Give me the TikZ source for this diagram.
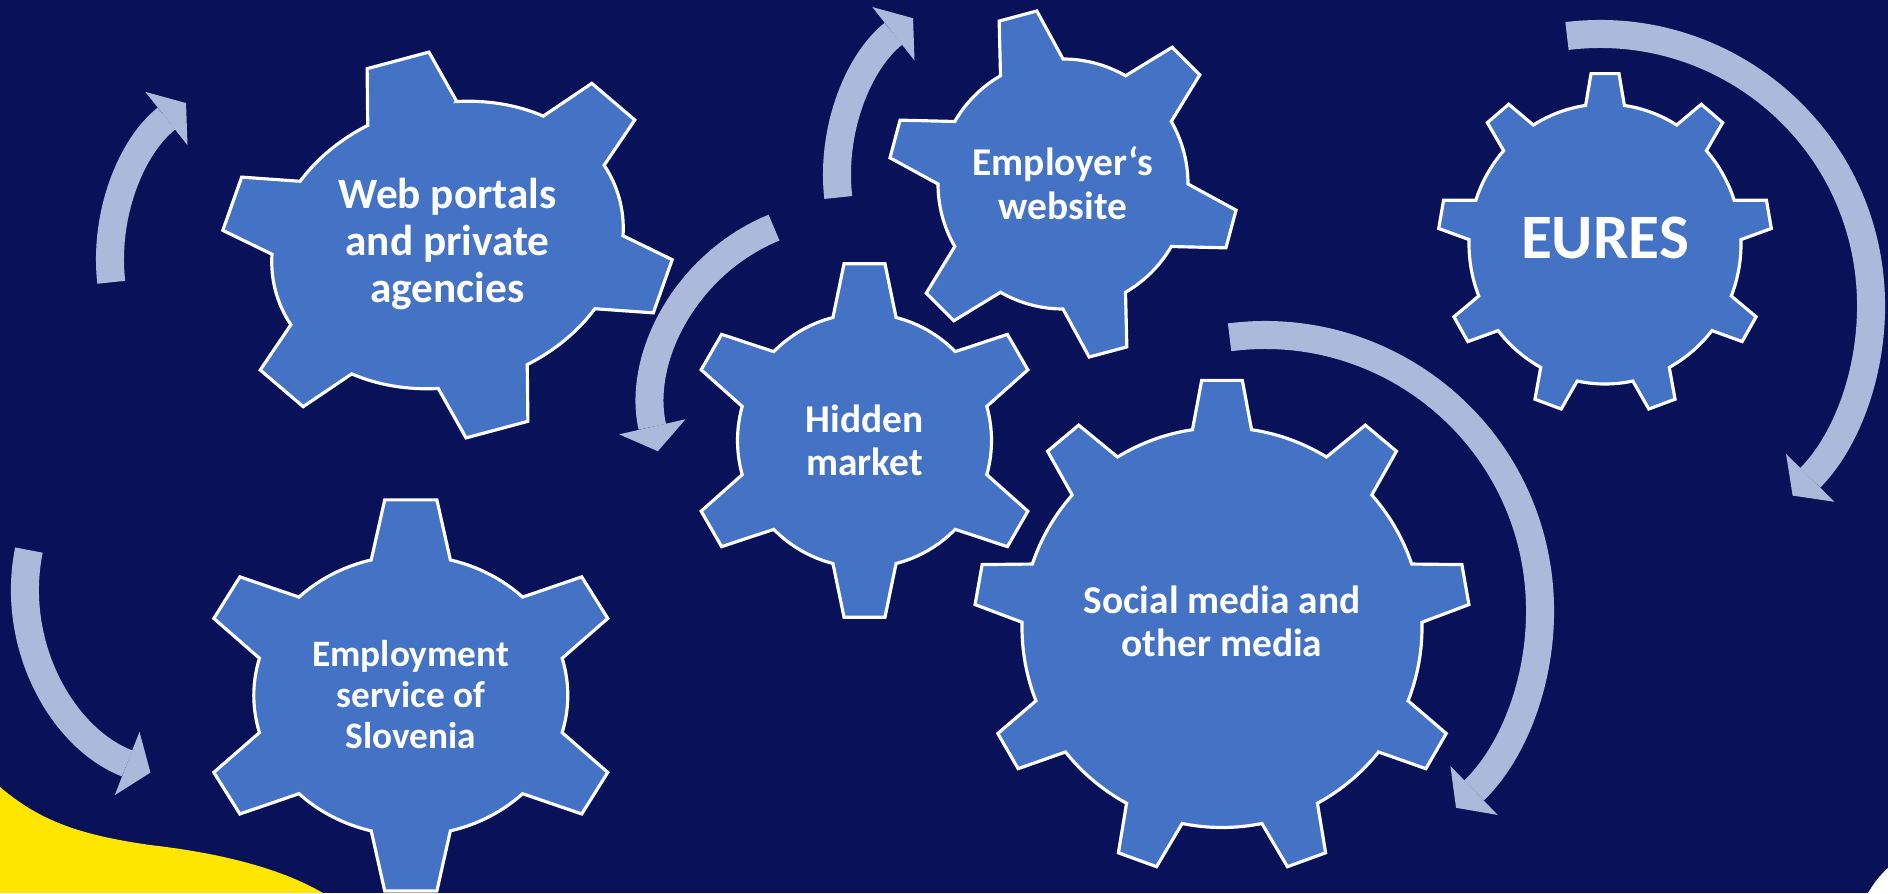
\documentclass[tikz,border=0pt]{standalone}
\usepackage{fontspec}
\setmainfont{Carlito}
\usepackage{tikz}
\usetikzlibrary{arrows.meta}
\definecolor{navy}{RGB}{9,18,88}
\definecolor{gearblue}{RGB}{68,114,196}
\definecolor{flowblue}{RGB}{173,185,219}
\definecolor{sunyellow}{RGB}{255,230,0}
\tikzset{gear/.style={fill=gearblue,draw=white,line width=0.9pt,line join=miter},
  gear label/.style={text=white,align=center,inner sep=0pt},
  flow/.style={draw=flowblue,line width=2.8mm,-{Triangle[length=2.5mm,width=6.8mm,line width=0pt]}}}

% rx, ry, tooth height, teeth, half angle at base, half angle at tip
\newcommand{\gearpath}[6]{%
  \pgfmathsetmacro\gstep{360/#4}%
  \pgfmathtruncatemacro\glast{#4-1}%
  \pgfmathsetmacro\grx{#1+#3}%
  \pgfmathsetmacro\gry{#2+#3}%
  \draw[gear] ({90-#5}:{#1} and {#2})
    \foreach \k [evaluate=\k as \ang using 90+\k*\gstep] in {0,...,\glast}
      { -- ({\ang-#6}:{\grx} and {\gry}) -- ({\ang+#6}:{\grx} and {\gry}) -- ({\ang+#5}:{#1} and {#2})
        arc[start angle=\ang+#5,end angle=\ang+\gstep-#5,x radius=#1,y radius=#2] }
    -- cycle;}

\begin{document}
\begin{tikzpicture}[x=0.01cm,y=0.01cm]
  \useasboundingbox (0,0) rectangle (1888,893);
  \clip (0,0) rectangle (1888,893);
  \fill[navy] (0,0) rectangle (1888,893);
  \fill[sunyellow] (0,0) -- (0,106) .. controls (40,72) and (80,58) .. (150,48)
    .. controls (220,40) and (280,25) .. (323,0) -- cycle;
  \fill[white] (1868,0) .. controls (1874,10) and (1880,18) .. (1888,25) -- (1888,0) -- cycle;

  \coordinate (web) at (447.5,648);
  \coordinate (employer) at (1063,709);
  \coordinate (hidden) at (864.5,452.5);
  \coordinate (social) at (1222,265.5);
  \coordinate (service) at (410.8,197.6);
  \coordinate (eures) at (1605,649);

  \begin{scope}[shift={(web)},rotate=15]
    \gearpath{178}{141}{52}{6}{15}{8}
  \end{scope}
  \begin{scope}[shift={(employer)},rotate=15]
    \gearpath{125}{125}{50}{6}{15}{6.4}
  \end{scope}
  \begin{scope}[shift={(hidden)}]
    \gearpath{127}{127}{51}{6}{14.4}{6.6}
  \end{scope}
  \begin{scope}[shift={(social)}]
    \gearpath{200}{200}{48}{9}{8.5}{4.7}
  \end{scope}
  \begin{scope}[shift={(service)}]
    \gearpath{157}{140}{57}{6}{14.6}{7}
  \end{scope}
  \begin{scope}[shift={(eures)}]
    \gearpath{136}{140}{31}{9}{8.2}{4.8}
  \end{scope}

  \node[gear label,font=\bfseries\fontsize{12.3}{13.5}\selectfont] (webtext) at (447.5,649) {Web portals\\and private\\agencies};
  \node[gear label,font=\bfseries\fontsize{11.2}{12.3}\selectfont] (employertext) at (1063,710) {Employer‘s\\website};
  \node[gear label,font=\bfseries\fontsize{11.2}{12.3}\selectfont] (hiddentext) at (864.5,453) {Hidden\\market};
  \node[gear label,font=\bfseries\fontsize{11.2}{12.3}\selectfont] (socialtext) at (1222,272) {Social media and\\other media};
  \node[gear label,font=\bfseries\fontsize{10.6}{11.65}\selectfont] (servicetext) at (410.8,198) {Employment\\service of\\Slovenia};
  \node[gear label,font=\bfseries\fontsize{18}{21}\selectfont] (eurestext) at (1605,655) {EURES};

  \coordinate (turnA) at (310,633);
  \coordinate (turnB) at (848,485);
  \coordinate (turnC) at (1037,717.8);
  \coordinate (turnD) at (1600,588);
  \coordinate (turnE) at (1265,283);
  \coordinate (turnF) at (222,304);

  \draw[flow] (turnA) ++(186.4:200) arc[start angle=186.4,end angle=128.3,radius=200];
  \draw[flow] (turnB) ++(112.3:195) arc[start angle=112.3,end angle=192.8,radius=195];
  \draw[flow] (turnC) ++(186.4:200) arc[start angle=186.4,end angle=128.3,radius=200];
  \draw[flow] (turnD) ++(97:271) arc[start angle=97,end angle=-44.7,radius=271];
  \draw[flow] (turnE) ++(97.4:275) arc[start angle=97.4,end angle=-46,radius=275];
  \draw[flow] (turnF) ++(168.6:197) arc[start angle=168.6,end angle=248.7,radius=197];
\end{tikzpicture}
\end{document}
